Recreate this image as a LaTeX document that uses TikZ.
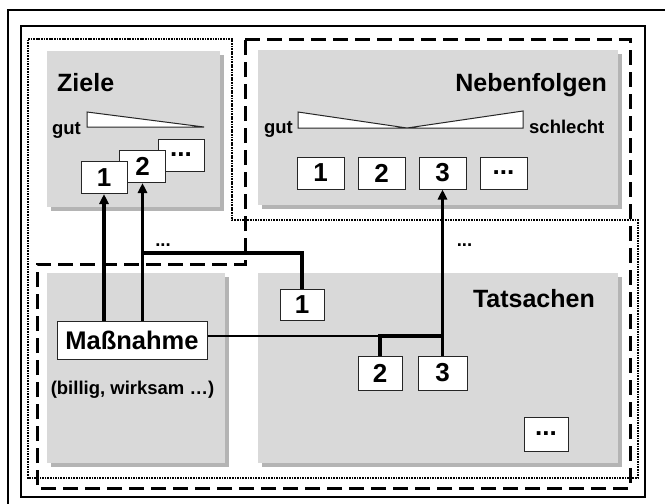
\documentclass[tikz,border=0pt]{standalone}
\usepackage{fontspec}
\setmainfont{Liberation Sans}
\usetikzlibrary{arrows.meta,shadows}
\definecolor{panelgrey}{RGB}{217,217,217}
\definecolor{shadowgrey}{RGB}{180,180,180}
\newcommand{\moredots}{...}

\begin{document}
\begin{tikzpicture}[x=1pt, y=-1pt,
  panel/.style   = { fill=panelgrey, inner sep=0pt,
                     copy shadow={shadow xshift=4pt, shadow yshift=-4pt,
                                  fill=shadowgrey, draw=none} },
  title/.style   = { font=\fontsize{25}{30}\selectfont\bfseries, inner sep=0pt },
  small/.style   = { font=\fontsize{18.5}{22}\selectfont\bfseries, inner sep=0pt },
  numbox/.style  = { draw=black!85, line width=1pt, fill=white, inner sep=0pt,
                     minimum width=46pt, minimum height=32pt,
                     font=\fontsize{26}{30}\selectfont\bfseries },
  wedge/.style   = { draw=black!85, line width=1pt, fill=white },
  conn/.style    = { line width=3.5pt },
  feed/.style    = { line width=2pt },
  arrowed/.style = { -{Triangle[length=10pt,width=9pt]} }]
  \useasboundingbox (0,0) rectangle (665,504);

  % frames
  \draw[line width=2.2pt] (8,10) rectangle (700,540);
  \draw[line width=2pt] (21,26) rectangle (645,497);
  \draw[line width=2.8pt, dash pattern=on 1.7pt off 0.9pt]
    (28,39) -- (232,39) -- (232,220) -- (638,220) -- (638,478) -- (28,478) -- cycle;
  \draw[line width=3pt, dash pattern=on 15pt off 7pt]
    (245,39) -- (630,39) -- (630,488) -- (37,488) -- (37,264) -- (245,264) -- cycle;

  % panels
  \node[panel, minimum width=173pt, minimum height=156pt] (zielePanel)  at (133.5,129) {};
  \node[panel, minimum width=360pt, minimum height=155pt] (folgenPanel) at (438,127.5) {};
  \node[panel, minimum width=178pt, minimum height=190pt] (massPanel)   at (136,368) {};
  \node[panel, minimum width=360pt, minimum height=190pt] (tatPanel)    at (438,368) {};

  \node[title, anchor=base west] (zieleTitle)  at (57,91)  {Ziele};
  \node[title, anchor=base east] (folgenTitle) at (607,91) {Nebenfolgen};
  \node[title, anchor=base east] (tatTitle)    at (595,307) {Tatsachen};

  % Ziele
  \draw[wedge] (87,112) -- (204,127) -- (87,127) -- cycle;
  \node[small, anchor=base east] (zieleGut) at (81,134) {gut};
  \node[numbox] (z3) at (181,155)   {\moredots};
  \node[numbox] (z2) at (142.5,166.5) {2};
  \node[numbox] (z1) at (104,177.5) {1};

  % Nebenfolgen
  \draw[wedge] (298,112) -- (407,128) -- (523,111) -- (523,128) -- (298,128) -- cycle;
  \node[small, anchor=base east] (folgenGut)      at (293,133) {gut};
  \node[small, anchor=base west] (folgenSchlecht) at (529,133) {schlecht};
  \foreach \i/\t in {1/1, 2/2, 3/3, 4/\moredots}
    \node[numbox, minimum width=47pt] (n\i) at ({259.5+61*\i},173) {\t};

  % Massnahme
  \node[numbox, minimum width=150pt, minimum height=38pt,
        font=\fontsize{25.5}{30}\selectfont\bfseries] (Massnahme) at (132,340) {Maßnahme};
  \node[small, anchor=base] (massNote) at (132.5,394) {(billig, wirksam …)};

  % Tatsachen
  \node[numbox, minimum width=44pt, minimum height=31pt] (t1) at (302,304.5) {1};
  \node[numbox, minimum width=44pt, minimum height=34pt] (t2) at (380,373)   {2};
  \node[numbox, minimum width=49pt, minimum height=34pt] (t3) at (442.5,373) {3};
  \node[numbox, minimum width=44pt, minimum height=34pt] (t4) at (546,434)   {\moredots};

  % connectors
  \draw[conn, arrowed] (Massnahme.north -| z1.south) -- (z1.south);
  \draw[conn, arrowed] (Massnahme.north -| z2.south) -- (z2.south);
  \coordinate (fork) at (z2.south |- 0,253);
  \draw[conn] (fork) -| (t1.north);
  \node[small, anchor=base] (forkDots) at (163,246) {\moredots};

  \coordinate (join) at (t2.north |- 0,336);
  \draw[feed] (Massnahme.east |- join) -- (join);
  \draw[conn] (t2.north) -- (join) -- (join -| t3.north);
  \draw[conn, arrowed] (t3.north) -- (n3.south);
  \node[small, anchor=base] (joinDots) at (464.5,246) {\moredots};
\end{tikzpicture}
\end{document}
